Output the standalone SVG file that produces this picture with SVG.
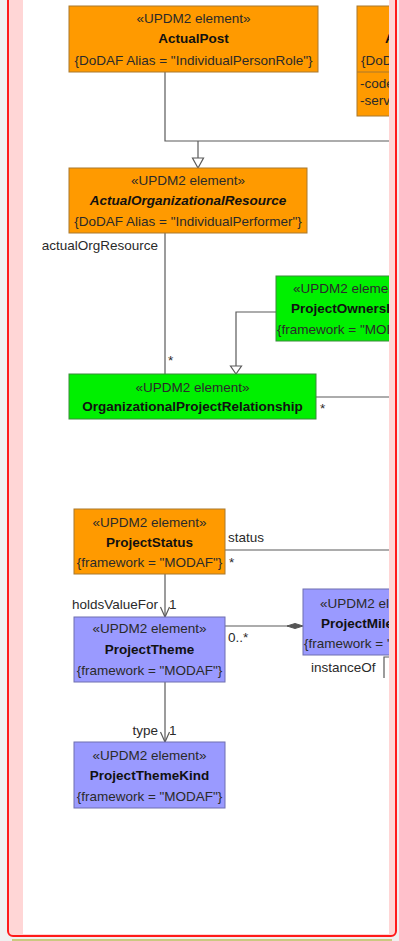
<svg xmlns="http://www.w3.org/2000/svg" width="399" height="941" viewBox="0 0 399 941">
<defs>
<style>
text{font-family:"Liberation Sans",Arial,sans-serif;font-size:13.5px;fill:#2a2a2a}
.c{text-anchor:middle}
.e{text-anchor:end}
.b{font-weight:bold;fill:#111}
.bi{font-weight:bold;font-style:italic;fill:#111}
.or{fill:#ff9a00;stroke:#a8782e;stroke-width:1}
.gr{fill:#00f000;stroke:#3b8a3b;stroke-width:1}
.pu{fill:#9a9aff;stroke:#6f6fb0;stroke-width:1}
.ln{fill:none;stroke:#5a5a5a;stroke-width:1.2}
.tri{fill:#fff;stroke:#5a5a5a;stroke-width:1.2}
</style>
<clipPath id="clip"><rect x="23" y="0" width="366" height="934"/></clipPath>
</defs>
<rect x="0" y="0" width="399" height="941" fill="#f0f0f0"/>
<line x1="12" y1="940" x2="392" y2="940" stroke="#a8a010" stroke-width="1.2"/>
<rect x="8" y="-10" width="388" height="946" rx="5" fill="#ffd6d6" stroke="#ff1a1a" stroke-width="2"/>
<rect x="23" y="0" width="366" height="934" fill="#ffffff"/>
<g clip-path="url(#clip)">
<g id="connectors">
<path class="ln" d="M165 72 V141 H395"/>
<path class="ln" d="M198 141 V158"/>
<polygon class="tri" points="192.5,158 203.5,158 198,168"/>
<text class="e" x="158" y="249.5">actualOrgResource</text>
<path class="ln" d="M165 233 V374"/>
<text x="168" y="365">*</text>
<path class="ln" d="M276 312 H236 V366"/>
<polygon class="tri" points="230.5,366 241.5,366 236,374"/>
<path class="ln" d="M316 397 H395"/>
<text x="320" y="413">*</text>
<path class="ln" d="M225 550 H395"/>
<text x="228" y="541.5">status</text>
<text x="229" y="567">*</text>
<path class="ln" d="M165 574 V617"/>
<path class="ln" d="M160.5 607 L165 617 L169.5 607"/>
<text class="e" x="158" y="608.5">holdsValueFor</text>
<text x="169" y="608.5">1</text>
<path class="ln" d="M225 626 H288"/>
<polygon points="287,626 295,623.5 303,626 295,628.5" fill="#555" stroke="#555" stroke-width="1"/>
<text x="228" y="641.5">0..*</text>
<text x="311" y="671.5">instanceOf</text>
<path class="ln" d="M389 657 H384 V678"/>
<path class="ln" d="M165 682 V742"/>
<path class="ln" d="M160.5 732 L165 742 L169.5 732"/>
<text class="e" x="158" y="734.5">type</text>
<text x="169" y="734.5">1</text>
</g>
<g id="ActualPost">
<rect class="or" x="69" y="6" width="249" height="66"/>
<text class="c" x="193.5" y="22.5">«UPDM2 element»</text>
<text class="c b" x="193.5" y="42.5">ActualPost</text>
<text class="c" x="193.5" y="64.5">{DoDAF Alias = "IndividualPersonRole"}</text>
</g>
<g id="ActualOrganization">
<rect class="or" x="357" y="6" width="200" height="110"/>
<line x1="357" y1="72" x2="557" y2="72" stroke="#a8782e" stroke-width="1"/>
<text x="397" y="22.5">«UPDM2 element»</text>
<text class="b" x="385" y="42.5">ActualOrganization</text>
<text x="361" y="64.5">{DoDAF Alias = "OrganizationType"}</text>
<text x="360" y="87.5">-code</text>
<text x="360" y="104.5">-service</text>
</g>
<g id="ActualOrganizationalResource">
<rect class="or" x="69" y="168" width="238" height="65"/>
<text class="c" x="188" y="184.5">«UPDM2 element»</text>
<text class="c bi" x="188" y="204.5">ActualOrganizationalResource</text>
<text class="c" x="188" y="225.5">{DoDAF Alias = "IndividualPerformer"}</text>
</g>
<g id="ProjectOwnership">
<rect class="gr" x="276" y="276" width="200" height="65"/>
<text x="293" y="292.5">«UPDM2 element»</text>
<text class="b" x="291" y="312.5">ProjectOwnership</text>
<text x="277" y="333.5">{framework = "MODAF"}</text>
</g>
<g id="OrganizationalProjectRelationship">
<rect class="gr" x="69" y="374" width="247" height="45"/>
<text class="c" x="192.5" y="391.5">«UPDM2 element»</text>
<text class="c b" x="192.5" y="410.5">OrganizationalProjectRelationship</text>
</g>
<g id="ProjectStatus">
<rect class="or" x="74" y="509" width="151" height="65"/>
<text class="c" x="149.5" y="526.5">«UPDM2 element»</text>
<text class="c b" x="149.5" y="546.5">ProjectStatus</text>
<text class="c" x="149.5" y="566.5">{framework = "MODAF"}</text>
</g>
<g id="ProjectTheme">
<rect class="pu" x="74" y="617" width="151" height="65"/>
<text class="c" x="149.5" y="632.5">«UPDM2 element»</text>
<text class="c b" x="149.5" y="653.5">ProjectTheme</text>
<text class="c" x="149.5" y="674.5">{framework = "MODAF"}</text>
</g>
<g id="ProjectMilestone">
<rect class="pu" x="303" y="589" width="150" height="66"/>
<text x="320" y="607.5">«UPDM2 element»</text>
<text class="b" x="321" y="627.5">ProjectMilestone</text>
<text x="304" y="647.5">{framework = "MODAF"}</text>
</g>
<g id="ProjectThemeKind">
<rect class="pu" x="74" y="742" width="151" height="66"/>
<text class="c" x="149.5" y="759.5">«UPDM2 element»</text>
<text class="c b" x="149.5" y="779.5">ProjectThemeKind</text>
<text class="c" x="149.5" y="800.5">{framework = "MODAF"}</text>
</g>
</g>
</svg>
